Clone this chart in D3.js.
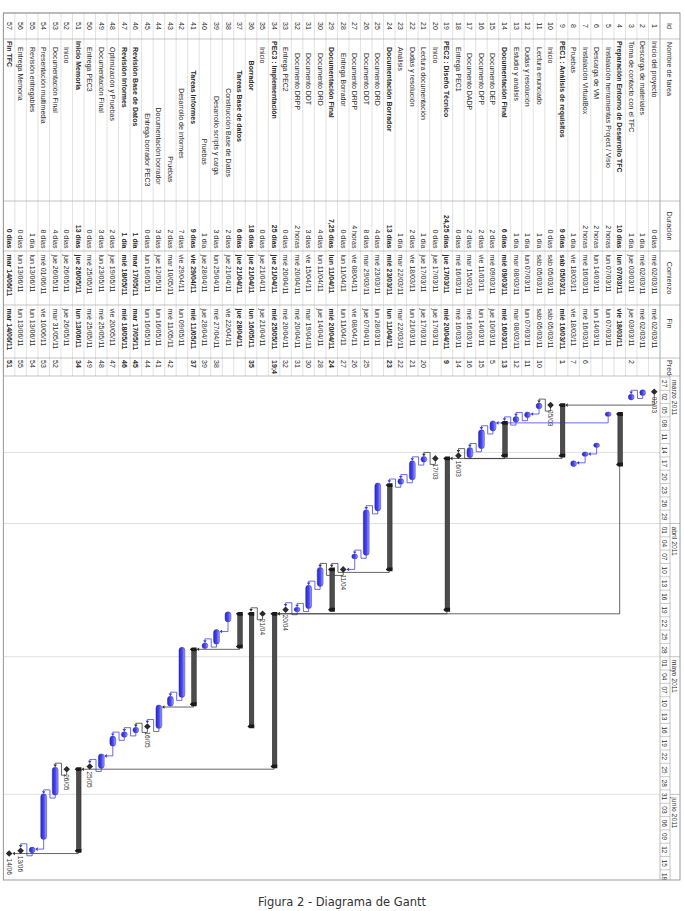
<!DOCTYPE html>
<html>
<head>
<meta charset="utf-8">
<script src="https://cdn.jsdelivr.net/npm/d3@7"></script>
<style>
  body { margin: 0; background: #fff; }
  svg { display: block; }
  .nombre { white-space: pre; }
</style>
</head>
<body>
<script>
// datos de la tabla (una entrada por tarea, Id = posicion + 1)
const sp = n => "\u00a0".repeat(n);
const nombres = [
  "Inicio del proyecto", "Descarga de materiales", "Toma de contacto con el TFC",
  "Preparación Entorno de Desarrollo TFC", "Instalación herramientas Project / Visio",
  "Descarga de VM", "Instalación VirtualBox", "Pruebas",
  "PEC1 : Análisis de requisitos", "Inicio", "Lectura enunciado", "Dudas y resolución",
  "Estudio y análisis", "Documentación Final", "Documento DEP", "Documento DPP",
  "Documento DADP", "Entrega PEC1",
  "PEC2 : Diseño Técnico", "Inicio", "Lectura documentación", "Dudas y resolución",
  "Análisis", "Documentación Borrador", "Documento DRD", "Documento DDT",
  "Documento DRPP", "Entrega Borrador", "Documentación Final", "Documento DRD",
  "Documento DDT", "Documento DRPP", "Entrega PEC2",
  "PEC3 : Implementación", "Inicio", sp(7) + "Borrador", sp(9) + "Tareas Base de datos",
  sp(15) + "Construcción Base de Datos", sp(19) + "Desarrollo scripts y carga", sp(41) + "Pruebas",
  sp(9) + "Tareas Informes", sp(15) + "Desarrollo de informes", sp(50) + "Pruebas",
  sp(28) + "Documentación borrador", sp(31) + "Entrega borrador PEC3",
  "Revisión Base de Datos", "Revisión Informes",
  "Optimización y Pruebas", "Documentación Final", "Entrega PEC3",
  "Inicio Memoria", "Inicio", "Documentación Final", "Presentación multimedia",
  "Revisión entregables", "Entrega Memoria", "Fin TFC"
];
const niveles = [1,1,1,1,2,2,2,2,1,2,2,2,2,2,3,3,3,2,1,2,2,2,2,2,3,3,3,3,2,3,3,3,2,
  1,2,2,3,4,4,4,3,4,4,3,3,2,2,2,2,2,1,2,2,2,2,2,1];
const negrita = [4, 9, 14, 19, 24, 29, 34, 36, 37, 41, 46, 47, 51, 57];
const duraciones = [
  "0 días", "1 día", "1 día", "10 días", "2 horas", "2 horas", "2 horas", "1 día",
  "9 días", "0 días", "1 día", "1 día", "1 día", "6 días", "2 días", "2 días", "2 días", "0 días",
  "24,25 días", "0 días", "1 día", "2 días", "1 día", "13 días", "4 días", "8 días", "4 horas",
  "0 días", "7,25 días", "4 días", "3 días", "2 horas", "0 días",
  "25 días", "0 días", "18 días", "6 días", "2 días", "3 días", "1 día", "9 días", "7 días",
  "2 días", "3 días", "0 días", "1 día", "1 día", "2 días", "3 días", "0 días",
  "13 días", "0 días", "4 días", "8 días", "1 día", "0 días", "0 días"
];
const comienzos = [
  "mié 02/03/11", "mié 02/03/11", "jue 03/03/11", "lun 07/03/11", "lun 07/03/11",
  "lun 14/03/11", "mié 16/03/11", "vie 18/03/11", "sáb 05/03/11", "sáb 05/03/11",
  "sáb 05/03/11", "lun 07/03/11", "mar 08/03/11", "mié 09/03/11", "mié 09/03/11",
  "vie 11/03/11", "mar 15/03/11", "mié 16/03/11", "jue 17/03/11", "jue 17/03/11",
  "jue 17/03/11", "vie 18/03/11", "mar 22/03/11", "mié 23/03/11", "mié 23/03/11",
  "mar 29/03/11", "vie 08/04/11", "lun 11/04/11", "lun 11/04/11", "lun 11/04/11",
  "vie 15/04/11", "mié 20/04/11", "mié 20/04/11", "jue 21/04/11", "jue 21/04/11",
  "jue 21/04/11", "jue 21/04/11", "jue 21/04/11", "lun 25/04/11", "jue 28/04/11",
  "vie 29/04/11", "vie 29/04/11", "mar 10/05/11", "jue 12/05/11", "lun 16/05/11",
  "mar 17/05/11", "mié 18/05/11", "jue 19/05/11", "lun 23/05/11", "mié 25/05/11",
  "jue 26/05/11", "jue 26/05/11", "jue 26/05/11", "mié 01/06/11", "lun 13/06/11",
  "lun 13/06/11", "mar 14/06/11"
];
const fines = [
  "mié 02/03/11", "mié 02/03/11", "jue 03/03/11", "vie 18/03/11", "lun 07/03/11",
  "lun 14/03/11", "mié 16/03/11", "vie 18/03/11", "mié 16/03/11", "sáb 05/03/11",
  "sáb 05/03/11", "lun 07/03/11", "mar 08/03/11", "mié 16/03/11", "jue 10/03/11",
  "lun 14/03/11", "mié 16/03/11", "mié 16/03/11", "mié 20/04/11", "jue 17/03/11",
  "jue 17/03/11", "lun 21/03/11", "mar 22/03/11", "lun 11/04/11", "lun 28/03/11",
  "jue 07/04/11", "vie 08/04/11", "lun 11/04/11", "mié 20/04/11", "jue 14/04/11",
  "mar 19/04/11", "mié 20/04/11", "mié 20/04/11", "mié 25/05/11", "jue 21/04/11",
  "lun 16/05/11", "jue 28/04/11", "vie 22/04/11", "mié 27/04/11", "jue 28/04/11",
  "mié 11/05/11", "lun 09/05/11", "mié 11/05/11", "lun 16/05/11", "lun 16/05/11",
  "mar 17/05/11", "mié 18/05/11", "vie 20/05/11", "mié 25/05/11", "mié 25/05/11",
  "lun 13/06/11", "jue 26/05/11", "mar 31/05/11", "vie 10/06/11", "lun 13/06/11",
  "lun 13/06/11", "mar 14/06/11"
];
const predecesoras = [
  "", "", "2", "", "", "", "6", "7", "1", "", "10", "11", "12", "13", "5", "15", "16", "14",
  "9", "", "20", "21", "22", "23", "", "25", "26", "27", "24", "28", "30", "31", "32",
  "19;4", "", "35", "", "", "38", "39", "37", "", "42", "41", "44", "45", "46", "47", "48", "49",
  "34", "", "52", "53", "54", "55", "51"
];

// escala temporal
const diasEscala = [
  "27/02/11", "02/03/11", "05/03/11", "08/03/11", "11/03/11", "14/03/11", "17/03/11",
  "20/03/11", "23/03/11", "26/03/11", "29/03/11", "01/04/11", "04/04/11", "07/04/11",
  "10/04/11", "13/04/11", "16/04/11", "19/04/11", "22/04/11", "25/04/11", "28/04/11",
  "01/05/11", "04/05/11", "07/05/11", "10/05/11", "13/05/11", "16/05/11", "19/05/11",
  "22/05/11", "25/05/11", "28/05/11", "31/05/11", "03/06/11", "06/06/11", "09/06/11",
  "12/06/11", "15/06/11", "18/06/11"
];
const meses = ["marzo 2011", "abril 2011", "mayo 2011", "junio 2011"];
const inicioMeses = ["27/02/11", "01/04/11", "01/05/11", "01/06/11"];
const lineasFecha = ["16/03/11", "01/04/11", "01/05/11", "01/06/11"];

const parseF = d3.timeParse("%d/%m/%y");
const fechaDe = s => parseF(s.split(" ")[1]);
const fmtHito = d3.timeFormat("%d/%m");

// construir tareas
const tareas = nombres.map((n, i) => ({
  id: i + 1, nombre: n, nivel: niveles[i], dur: duraciones[i],
  com: comienzos[i], fin: fines[i], pred: predecesoras[i],
  preds: predecesoras[i] ? predecesoras[i].split(";").map(Number) : [],
  bold: negrita.includes(i + 1)
}));
tareas.forEach((t, i) => {
  t.resumen = i + 1 < tareas.length && tareas[i + 1].nivel > t.nivel;
  t.hito = /^0 d/.test(t.dur);
  const d0 = fechaDe(t.com), d1 = fechaDe(t.fin);
  if (t.hito) {
    const p = t.preds.length ? tareas[t.preds[0] - 1] : null;
    if (p && +d3.timeDay.floor(p.t1) === +d0) t.t0 = t.t1 = p.t1;
    else t.t0 = t.t1 = d3.timeHour.offset(d0, 8);
  } else if (/horas/.test(t.dur)) {
    t.t0 = d3.timeHour.offset(d0, 8);
    t.t1 = d3.timeHour.offset(d0, 8 + parseFloat(t.dur));
  } else {
    t.t0 = d3.timeHour.offset(d0, 8);
    t.t1 = d3.timeHour.offset(d1, 17);
  }
});
// resumen: abarca a sus hijas
for (let i = tareas.length - 1; i >= 0; i--) {
  const t = tareas[i];
  if (!t.resumen) continue;
  const hijas = [];
  for (let j = i + 1; j < tareas.length && tareas[j].nivel > t.nivel; j++) hijas.push(tareas[j]);
  t.t0 = d3.min(hijas, h => h.t0);
  t.t1 = d3.max(hijas, h => h.t1);
}

// geometria (coordenadas locales, antes de girar 90 grados)
const izq = 13, der = 880, arriba = 4, medio = 14, cab = 24, altoFila = 11.52;
const colX = [13, 39, 201, 251, 305, 358, 376];
const abajo = cab + tareas.length * altoFila;
const x = d3.scaleTime()
  .domain([parseF("27/02/11"), parseF("18/06/11")])
  .range([377, 377 + 111 * 4.44]);
const filaY = i => cab + i * altoFila;
const cy = i => filaY(i) + altoFila / 2;

const fuente = "'Liberation Sans', Arial, sans-serif";
const gris = "#a9a9a9";

const svg = d3.select("body").append("svg")
  .attr("width", 684).attr("height", 911);

const defs = svg.append("defs");
const grad = defs.append("linearGradient").attr("id", "azul")
  .attr("x1", 0).attr("y1", 0).attr("x2", 0).attr("y2", 1);
grad.append("stop").attr("offset", 0).attr("stop-color", "#a4a4ff");
grad.append("stop").attr("offset", 0.45).attr("stop-color", "#4a4af2");
grad.append("stop").attr("offset", 1).attr("stop-color", "#2626c4");
const recorte = (id, x0, x1) => defs.append("clipPath").attr("id", id).append("rect")
  .attr("x", x0).attr("y", arriba).attr("width", x1 - x0).attr("height", abajo - arriba);
recorte("clipGantt", colX[6], der);
recorte("clipPred", colX[5], colX[6]);
recorte("clipNombre", colX[1], colX[2]);

const g = svg.append("g").attr("transform", "translate(684,0) rotate(90)")
  .style("font-family", fuente);

// lineas de la tabla
g.append("g").selectAll("line").data(d3.range(tareas.length + 1)).join("line")
  .attr("x1", izq).attr("x2", colX[6])
  .attr("y1", i => filaY(i)).attr("y2", i => filaY(i))
  .attr("stroke", "#cfcfcf").attr("stroke-width", 0.6);
g.append("g").selectAll("line").data(colX).join("line")
  .attr("x1", d => d).attr("x2", d => d)
  .attr("y1", arriba).attr("y2", abajo)
  .attr("stroke", gris).attr("stroke-width", 0.7);

// lineas verticales del diagrama
g.append("g").selectAll("line").data(lineasFecha).join("line")
  .attr("x1", d => x(parseF(d))).attr("x2", d => x(parseF(d)))
  .attr("y1", cab).attr("y2", abajo)
  .attr("stroke", "#dcdcdc").attr("stroke-width", 0.9);

// encabezado de la tabla
const enc = g.append("g").attr("font-size", 7.2).attr("fill", "#333");
enc.append("text").attr("x", (colX[0] + colX[1]) / 2).attr("y", 16.6).attr("text-anchor", "middle").text("Id");
enc.append("text").attr("x", colX[1] + 3).attr("y", 16.6).text("Nombre de tarea");
enc.append("text").attr("x", (colX[2] + colX[3]) / 2).attr("y", 16.6).attr("text-anchor", "middle").text("Duración");
enc.append("text").attr("x", (colX[3] + colX[4]) / 2).attr("y", 16.6).attr("text-anchor", "middle").text("Comienzo");
enc.append("text").attr("x", (colX[4] + colX[5]) / 2 - 8).attr("y", 16.6).attr("text-anchor", "middle").text("Fin");
enc.append("text").attr("x", colX[5] + 2).attr("y", 16.6).attr("clip-path", "url(#clipPred)").text("Predecesoras");

// columnas de la tabla
const columnas = [
  { x: d => (colX[0] + colX[1]) / 2, anchor: "middle", txt: d => d.id, normal: true },
  { x: d => colX[1] + 2 + (d.nivel - 1) * 6, txt: d => d.nombre, clip: "clipNombre", cls: "nombre" },
  { x: d => colX[3] - 2.5, anchor: "end", txt: d => d.dur },
  { x: d => colX[3] + 3.5, txt: d => d.com },
  { x: d => colX[4] + 3.5, txt: d => d.fin },
  { x: d => colX[5] + 2, txt: d => d.pred, clip: "clipPred" }
];
const cuerpo = g.append("g").attr("font-size", 7).attr("fill", "#2a2a2a");
columnas.forEach(c => {
  cuerpo.append("g")
    .attr("clip-path", c.clip ? `url(#${c.clip})` : null)
    .selectAll("text").data(tareas).join("text")
    .attr("class", c.cls || null)
    .attr("x", c.x).attr("y", (d, i) => cy(i) + 2.5)
    .attr("text-anchor", c.anchor || "start")
    .attr("font-weight", d => d.bold && !c.normal ? "bold" : "normal")
    .text(c.txt);
});

// escala temporal
const esc = g.append("g").attr("clip-path", "url(#clipGantt)");
esc.append("line").attr("x1", colX[6]).attr("x2", der).attr("y1", medio).attr("y2", medio)
  .attr("stroke", gris).attr("stroke-width", 0.7);
esc.selectAll(".sepMes").data(inicioMeses.slice(1)).join("line")
  .attr("x1", d => x(parseF(d))).attr("x2", d => x(parseF(d)))
  .attr("y1", arriba).attr("y2", medio).attr("stroke", gris).attr("stroke-width", 0.7);
esc.selectAll(".mes").data(meses).join("text")
  .attr("x", (d, i) => x(parseF(inicioMeses[i])) + 3).attr("y", 11.8)
  .attr("font-size", 6.8).attr("fill", "#333").text(d => d);
esc.selectAll(".sepDia").data(diasEscala).join("line")
  .attr("x1", d => x(parseF(d))).attr("x2", d => x(parseF(d)))
  .attr("y1", medio).attr("y2", cab).attr("stroke", gris).attr("stroke-width", 0.6);
esc.selectAll(".dia").data(diasEscala).join("text")
  .attr("x", d => (x(parseF(d)) + x(d3.timeDay.offset(parseF(d), 3))) / 2).attr("y", 21.6)
  .attr("text-anchor", "middle").attr("font-size", 6.4).attr("fill", "#333")
  .text(d => d.slice(0, 2));

// enlaces entre tareas
const finX = t => t.hito ? x(t.t1) + 3 : t.resumen ? x(t.t1) : x(t.t1) + 2;
const enl = g.append("g").attr("clip-path", "url(#clipGantt)");
tareas.forEach((t, i) => {
  t.preds.forEach(pid => {
    const p = tareas[pid - 1], pi = pid - 1;
    const color = (p.resumen || p.hito) ? "#333" : "#3a3ae6";
    const xe = finX(p), ye = cy(pi);
    const xs = x(t.t0), ys = cy(i);
    const medioAlto = t.hito ? 3.2 : t.resumen ? 3 : 2.9;
    if (xs - xe >= 2.5) {
      const tope = ys - medioAlto;
      enl.append("path").attr("d", `M${xe},${ye}H${xs}V${tope - 2.4}`)
        .attr("fill", "none").attr("stroke", color).attr("stroke-width", 0.75);
      enl.append("path").attr("d", `M${xs - 1.8},${tope - 2.7}L${xs + 1.8},${tope - 2.7}L${xs},${tope}Z`)
        .attr("fill", color);
    } else {
      const xi = x(t.t0) - (t.hito ? 3 : 2);
      enl.append("path")
        .attr("d", `M${xe},${ye}H${xe + 3}V${filaY(i) - 0.5}H${xi - 4}V${ys}H${xi - 2.4}`)
        .attr("fill", "none").attr("stroke", color).attr("stroke-width", 0.75);
      enl.append("path").attr("d", `M${xi - 2.7},${ys - 1.8}L${xi - 2.7},${ys + 1.8}L${xi},${ys}Z`)
        .attr("fill", color);
    }
  });
});

// barras
const barras = g.append("g").attr("clip-path", "url(#clipGantt)");
tareas.forEach((t, i) => {
  const c = cy(i);
  if (t.hito) {
    const m = x(t.t0);
    barras.append("path").attr("d", `M${m},${c - 3.3}L${m + 3.3},${c}L${m},${c + 3.3}L${m - 3.3},${c}Z`)
      .attr("fill", "#2b2b2b");
    barras.append("text").attr("x", m + 5).attr("y", c + 2.3)
      .attr("font-size", 6.5).attr("fill", "#333").text(fmtHito(t.t0));
  } else if (t.resumen) {
    const a = x(t.t0), b = x(t.t1);
    barras.append("rect").attr("x", a).attr("y", c - 2.8).attr("width", b - a).attr("height", 4.6)
      .attr("fill", "#4c4c4c").attr("stroke", "#222").attr("stroke-width", 0.5);
    [a, b].forEach(e => {
      barras.append("path")
        .attr("d", `M${e - 1.9},${c - 3.2}H${e + 1.9}V${c + 1.6}L${e},${c + 3.6}L${e - 1.9},${c + 1.6}Z`)
        .attr("fill", "#1a1a1a");
    });
  } else {
    const a = x(t.t0) - 2, b = x(t.t1) + 2;
    barras.append("rect").attr("x", a).attr("y", c - 2.9).attr("width", b - a).attr("height", 5.8)
      .attr("rx", 2.9).attr("ry", 2.9)
      .attr("fill", "url(#azul)").attr("stroke", "#2a2ab0").attr("stroke-width", 0.5);
  }
});

// borde exterior y linea de encabezado
g.append("line").attr("x1", izq).attr("x2", der).attr("y1", cab).attr("y2", cab)
  .attr("stroke", gris).attr("stroke-width", 0.8);
g.append("rect").attr("x", izq).attr("y", arriba).attr("width", der - izq).attr("height", abajo - arriba)
  .attr("fill", "none").attr("stroke", "#8e8e8e").attr("stroke-width", 0.9);

// pie de figura
svg.append("text").attr("x", 342).attr("y", 906).attr("text-anchor", "middle")
  .attr("font-family", "'DejaVu Sans', Verdana, sans-serif").attr("font-size", 11.5)
  .attr("fill", "#333").text("Figura 2 - Diagrama de Gantt");
</script>
</body>
</html>
